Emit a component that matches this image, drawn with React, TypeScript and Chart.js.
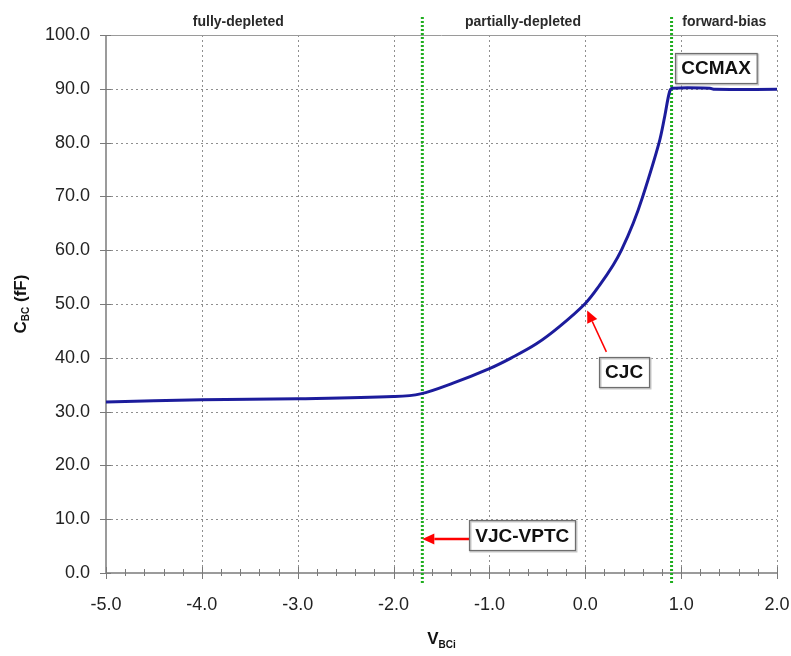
import React, { useEffect, useRef } from "react";
import { Chart, registerables } from "chart.js";

Chart.register(...registerables);

// ---- data ----
const voltage = [-5.0, -4.0, -3.0, -2.0, -1.72, -1.38, -1.0, -0.77, -0.51, -0.27, 0.0, 0.15, 0.29, 0.377, 0.5, 0.6, 0.77, 0.83, 0.88, 0.91, 1.3, 1.35, 2.0];
const capacitance = [31.8, 32.2, 32.4, 32.8, 33.3, 35.3, 38.0, 40.0, 42.6, 45.8, 50.1, 53.5, 57.2, 60.0, 65.0, 70.0, 80.0, 85.0, 89.5, 90.1, 90.1, 89.9, 89.9];

const xMin = -5;
const xMax = 2;
const yMin = 0;
const yMax = 100;

const regionLabels = ["fully-depleted", "partially-depleted", "forward-bias"];
const regionLabelV = [-3.62, -0.65, 1.45];
const boundaryV = [-1.7, 0.9];

const boxTexts = ["CCMAX", "CJC", "VJC-VPTC"];
const boxV = [1.365, 0.405, -0.657];
const boxC = [93.9, 37.4, 7.0];

// arrows: tail and tip, in data units (V, C)
const arrowTail = [
  [0.22, 41.1],
  [-1.19, 6.3],
];
const arrowTip = [
  [0.02, 48.8],
  [-1.7, 6.3],
];
const arrowWidths = [1.5, 2.5];

const FONT = "'Liberation Sans', Arial, Helvetica, sans-serif";

function drawArrow(ctx: CanvasRenderingContext2D, x1: number, y1: number, x2: number, y2: number, w: number) {
  const ang = Math.atan2(y2 - y1, x2 - x1);
  const headLen = 12;
  const headW = 5.5;
  const bx = x2 - headLen * Math.cos(ang);
  const by = y2 - headLen * Math.sin(ang);
  ctx.save();
  ctx.strokeStyle = "#ff0000";
  ctx.fillStyle = "#ff0000";
  ctx.lineWidth = w;
  ctx.beginPath();
  ctx.moveTo(x1, y1);
  ctx.lineTo(bx, by);
  ctx.stroke();
  ctx.beginPath();
  ctx.moveTo(x2, y2);
  ctx.lineTo(bx + headW * Math.sin(ang), by - headW * Math.cos(ang));
  ctx.lineTo(bx - headW * Math.sin(ang), by + headW * Math.cos(ang));
  ctx.closePath();
  ctx.fill();
  ctx.restore();
}

const customPlugin = {
  id: "customDecor",
  beforeDatasetsDraw(chart: any) {
    const { ctx, chartArea: a, scales } = chart;
    const x = scales.x;
    const y = scales.y;
    ctx.save();
    const line = (x1: number, y1: number, x2: number, y2: number) => {
      ctx.beginPath();
      ctx.moveTo(x1, y1);
      ctx.lineTo(x2, y2);
      ctx.stroke();
    };
    // dotted grid
    ctx.strokeStyle = "#8f8f8f";
    ctx.lineWidth = 1;
    ctx.setLineDash([2, 3]);
    x.ticks.forEach((t: any) => {
      if (t.value === xMin) return;
      const px = Math.round(x.getPixelForValue(t.value)) + 0.5;
      line(px, a.top, px, a.bottom);
    });
    y.ticks.forEach((t: any) => {
      if (t.value === yMin || t.value === yMax) return;
      const py = Math.round(y.getPixelForValue(t.value)) + 0.5;
      line(a.left, py, a.right, py);
    });
    ctx.setLineDash([]);
    // top border
    ctx.strokeStyle = "#9a9a9a";
    ctx.lineWidth = 1;
    line(a.left, Math.round(a.top) + 0.5, a.right, Math.round(a.top) + 0.5);
    // axes
    ctx.strokeStyle = "#7a7a7a";
    ctx.lineWidth = 1.5;
    line(a.left, a.top, a.left, a.bottom);
    line(a.left, a.bottom, a.right, a.bottom);
    // tick marks
    ctx.lineWidth = 1;
    y.ticks.forEach((t: any) => {
      const py = Math.round(y.getPixelForValue(t.value)) + 0.5;
      line(a.left - 6, py, a.left + 5, py);
    });
    x.ticks.forEach((t: any, i: number) => {
      const px = Math.round(x.getPixelForValue(t.value)) + 0.5;
      line(px, a.bottom - 6, px, a.bottom + 6);
      if (i < x.ticks.length - 1) {
        for (let k = 1; k < 5; k++) {
          const mp = Math.round(x.getPixelForValue(t.value + k * 0.2)) + 0.5;
          line(mp, a.bottom - 4, mp, a.bottom + 3);
        }
      }
    });
    // green boundaries
    ctx.strokeStyle = "#1fae1f";
    ctx.lineWidth = 3;
    ctx.setLineDash([2, 2]);
    boundaryV.forEach((v) => {
      const px = x.getPixelForValue(v);
      line(px, a.top - 18, px, a.bottom + 12);
    });
    ctx.restore();
  },
  afterDraw(chart: any) {
    const { ctx, chartArea: a, scales } = chart;
    const x = scales.x;
    const y = scales.y;
    ctx.save();
    // region labels
    ctx.fillStyle = "#2a2a2a";
    ctx.font = `bold 14px ${FONT}`;
    ctx.textAlign = "center";
    ctx.textBaseline = "middle";
    regionLabels.forEach((s, i) => {
      ctx.fillText(s, x.getPixelForValue(regionLabelV[i]), a.top - 13);
    });
    // arrows
    arrowTail.forEach((t, i) => {
      drawArrow(
        ctx,
        x.getPixelForValue(t[0]),
        y.getPixelForValue(t[1]),
        x.getPixelForValue(arrowTip[i][0]),
        y.getPixelForValue(arrowTip[i][1]),
        arrowWidths[i]
      );
    });
    // boxes
    ctx.font = `bold 19px ${FONT}`;
    boxTexts.forEach((s, i) => {
      const cx = x.getPixelForValue(boxV[i]);
      const cy = y.getPixelForValue(boxC[i]);
      const w = ctx.measureText(s).width + 12;
      const h = 30;
      const l = Math.round(cx - w / 2) + 0.5;
      const t = Math.round(cy - h / 2) + 0.5;
      ctx.fillStyle = "#ffffff";
      ctx.fillRect(l, t, w, h);
      ctx.strokeStyle = "#c8c8c8";
      ctx.lineWidth = 2;
      ctx.strokeRect(l + 1, t + 1, w, h);
      ctx.strokeStyle = "#6e6e6e";
      ctx.lineWidth = 1.2;
      ctx.strokeRect(l, t, w, h);
      ctx.fillStyle = "#111111";
      ctx.textAlign = "center";
      ctx.textBaseline = "middle";
      ctx.fillText(s, cx, cy + 1);
    });
    // x title V_BCi
    const big = `bold 17px ${FONT}`;
    const small = `bold 10px ${FONT}`;
    ctx.fillStyle = "#111111";
    ctx.textBaseline = "alphabetic";
    ctx.textAlign = "left";
    ctx.font = big;
    const wV = ctx.measureText("V").width;
    ctx.font = small;
    const wS = ctx.measureText("BCi").width;
    const xc = (a.left + a.right) / 2;
    const xs = xc - (wV + wS) / 2;
    const base = 644;
    ctx.font = big;
    ctx.fillText("V", xs, base);
    ctx.font = small;
    ctx.fillText("BCi", xs + wV, base + 4);
    // y title C_BC (fF)
    ctx.save();
    ctx.translate(26, (a.top + a.bottom) / 2);
    ctx.rotate(-Math.PI / 2);
    ctx.font = big;
    const wC = ctx.measureText("C").width;
    const wRest = ctx.measureText(" (fF)").width;
    ctx.font = small;
    const wBC = ctx.measureText("BC").width;
    const total = wC + wBC + wRest;
    let px = -total / 2;
    ctx.font = big;
    ctx.fillText("C", px, 0);
    px += wC;
    ctx.font = small;
    ctx.fillText("BC", px, 3);
    px += wBC;
    ctx.font = big;
    ctx.fillText(" (fF)", px, 0);
    ctx.restore();
    ctx.restore();
  },
};

export default function App() {
  const canvasRef = useRef<HTMLCanvasElement | null>(null);

  useEffect(() => {
    const canvas = canvasRef.current;
    if (!canvas) return;
    const points = voltage.map((v, i) => ({ x: v, y: capacitance[i] }));
    const chart = new Chart(canvas, {
      type: "scatter",
      data: {
        datasets: [
          {
            data: points,
            showLine: true,
            borderColor: "#1c1c9c",
            borderWidth: 3,
            pointRadius: 0,
            tension: 0.35,
            fill: false,
          } as any,
        ],
      },
      options: {
        responsive: false,
        animation: false,
        devicePixelRatio: 1,
        layout: { padding: { top: 35, right: 14, left: 0, bottom: 0 } },
        plugins: { legend: { display: false }, tooltip: { enabled: false } },
        scales: {
          x: {
            type: "linear",
            min: xMin,
            max: xMax,
            grid: { display: false, drawTicks: false },
            border: { display: false },
            ticks: {
              stepSize: 1,
              padding: 21,
              color: "#222222",
              font: { family: FONT, size: 18 },
              callback: (v: any) => Number(v).toFixed(1),
            },
            afterFit: (s: any) => {
              s.height = 83;
              s.paddingLeft = 0;
              s.paddingRight = 0;
            },
          },
          y: {
            type: "linear",
            min: yMin,
            max: yMax,
            grid: { display: false, drawTicks: false },
            border: { display: false },
            ticks: {
              stepSize: 10,
              padding: 16,
              color: "#222222",
              font: { family: FONT, size: 18 },
              callback: (v: any) => Number(v).toFixed(1),
            },
            afterFit: (s: any) => {
              s.width = 106;
              s.paddingTop = 0;
              s.paddingBottom = 0;
            },
          },
        },
      },
      plugins: [customPlugin],
    });
    return () => chart.destroy();
  }, []);

  return (
    <div style={{ position: "absolute", left: 0, top: 0, width: 791, height: 656, background: "#ffffff" }}>
      <canvas ref={canvasRef} width={791} height={656} style={{ display: "block" }} />
    </div>
  );
}
